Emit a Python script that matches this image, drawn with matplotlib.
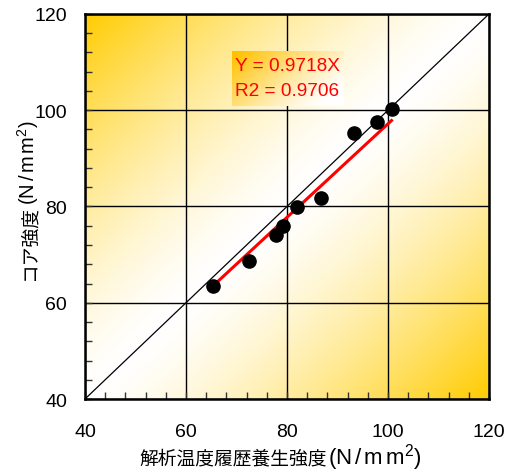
import numpy as np
import matplotlib.pyplot as plt
from matplotlib.ticker import MultipleLocator

# data
analysis_strength = [65.4, 72.5, 77.8, 79.3, 82.0, 86.8, 93.3, 97.9, 100.7]
core_strength = [63.5, 68.7, 74.1, 76.0, 79.8, 81.7, 95.3, 97.5, 100.3]
slope = 0.9718
r2 = 0.9706
ticks = [40, 60, 80, 100, 120]

plt.rcParams['font.family'] = ['Liberation Sans', 'DejaVu Sans']
plt.rcParams['mathtext.fontset'] = 'custom'
plt.rcParams['mathtext.rm'] = 'Liberation Sans'
plt.rcParams['mathtext.it'] = 'Liberation Sans'

fig = plt.figure(figsize=(5.17, 4.77), dpi=100)
ax = fig.add_axes([0.1644, 0.1614, 0.7814, 0.8072])

gold = np.array([1.0, 0.80, 0.0])
white = np.array([1.0, 1.0, 1.0])

# background: gold in top-left and bottom-right corners, white along diagonal
u, v = np.meshgrid(np.linspace(0, 1, 300), np.linspace(1, 0, 300))
t = np.abs(u - v) ** 1.4
bg = white * (1 - t[..., None]) + gold * t[..., None]
ax.imshow(bg, extent=[40, 120, 40, 120], aspect='auto', zorder=0, interpolation='bilinear')

ax.set_xlim(40, 120)
ax.set_ylim(40, 120)
ax.set_xticks(ticks)
ax.set_yticks(ticks)
ax.xaxis.set_minor_locator(MultipleLocator(4))
ax.yaxis.set_minor_locator(MultipleLocator(4))
ax.tick_params(which='both', direction='in', length=5, width=1, color='#333333')
ax.tick_params(axis='x', labelsize=14, pad=17)
ax.tick_params(axis='y', labelsize=14, pad=13)
ax.grid(True, which='major', color='black', linewidth=1.0, zorder=1)
for s in ax.spines.values():
    s.set_linewidth(1.8)
    s.set_zorder(5)

ax.plot([40, 120], [40, 120], color='black', linewidth=0.9, zorder=2)

xfit = np.array([min(analysis_strength), max(analysis_strength)])
ax.plot(xfit, slope * xfit, color='#ff0000', linewidth=2.2, zorder=3)
ax.plot(analysis_strength, core_strength, 'o', color='black', markersize=9.5, zorder=4)

# equation box with its own gradient
bu, bv = np.meshgrid(np.linspace(0, 1, 100), np.linspace(1, 0, 60))
bt = np.clip(((1 - bu) * 0.75 + bv * 0.45) - 0.15, 0, 1) ** 1.2
box = white * (1 - bt[..., None]) + np.array([1.0, 0.76, 0.0]) * bt[..., None]
ax.imshow(box, extent=[69.1, 91.1, 100.9, 112.3], aspect='auto', zorder=2.5, interpolation='bilinear')
ax.set_xlim(40, 120)
ax.set_ylim(40, 120)
ax.text(69.7, 109.3, f'Y = {slope}X', color='#ff0000', fontsize=13.7, va='center', ha='left', zorder=6)
ax.text(69.7, 104.1, f'R2 = {r2}', color='#ff0000', fontsize=13.7, va='center', ha='left', zorder=6)

# axis labels: CJK part and wider latin unit part drawn side by side
cjk = ['Noto Sans CJK JP', 'DejaVu Sans']
unit = r'$\mathrm{(N\,/\,m\,m^{2})}$'
ax.text(0.599, -0.168, '解析温度履歴養生強度', transform=ax.transAxes, fontsize=13.5,
        family=cjk, ha='right', va='baseline')
ax.text(0.601, -0.168, unit, transform=ax.transAxes, fontsize=16, ha='left', va='baseline')
ax.text(-0.125, 0.505, 'コア強度', transform=ax.transAxes, fontsize=13.5, family=cjk,
        rotation=90, rotation_mode='anchor', ha='right', va='baseline')
ax.text(-0.125, 0.507, unit, transform=ax.transAxes, fontsize=14.5,
        rotation=90, rotation_mode='anchor', ha='left', va='baseline')

fig.savefig('out.png', dpi=100)
